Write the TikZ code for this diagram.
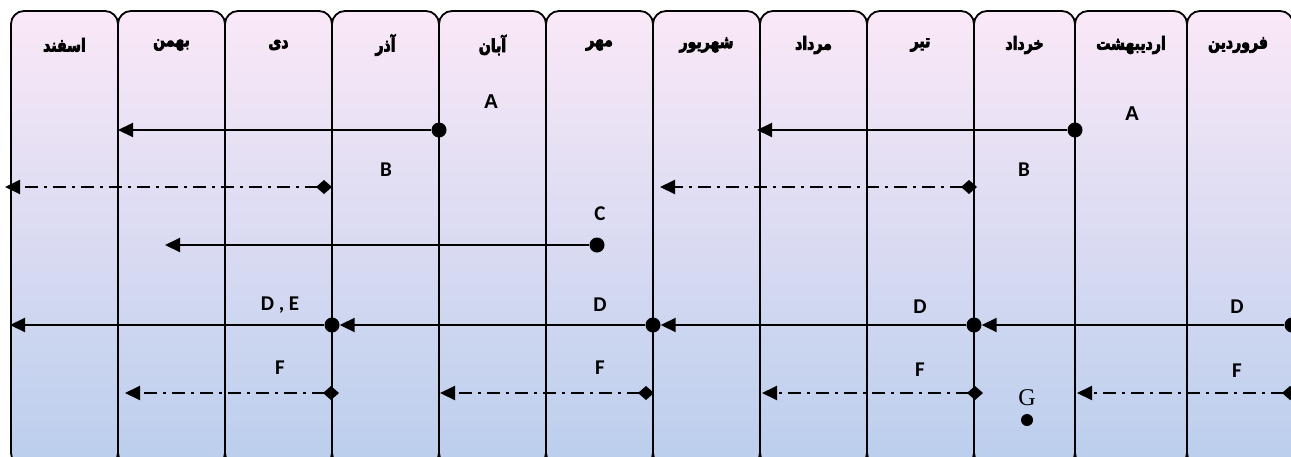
\documentclass[tikz,border=0pt]{standalone}
\usepackage{fontspec}
\usetikzlibrary{arrows.meta,shadows}
\TeXXeTstate=1
\newfontfamily\arabicfont[Script=Arabic, FakeStretch=0.78, BoldFont={DejaVu Sans Bold}, BoldFeatures={FakeBold=4}]{DejaVu Sans}
\newfontfamily\calfont{Carlito}
\newfontfamily\arialfont{Liberation Sans}
\newfontfamily\timesfont{Liberation Serif}
\definecolor{boxtop}{RGB}{250,232,247}
\definecolor{boxbot}{RGB}{186,206,237}
\tikzset{
  colbox/.style={draw=black, line width=1.8pt, rounded corners=13pt,
    top color=boxtop, bottom color=boxbot,
    drop shadow={shadow xshift=0pt, shadow yshift=-3pt, opacity=0.45, fill=gray}},
  month/.style={font=\arabicfont\bfseries\fontsize{18}{20}\selectfont, inner sep=0pt},
  lbl/.style={font=\calfont\bfseries\fontsize{21}{23}\selectfont, inner sep=0pt},
  albl/.style={font=\arialfont\bfseries\fontsize{20}{22}\selectfont, inner sep=0pt},
  dot/.style={circle, fill=black, minimum size=15pt, inner sep=0pt},
  solidarr/.style={line width=2pt, -{Triangle[length=15pt,width=14pt]}},
  dasharr/.style={line width=2pt, dash pattern=on 13pt off 6pt on 3pt off 6pt,
    {Diamond[length=16pt,width=14pt]}-{Triangle[length=15pt,width=14pt]}}
}
\begin{document}
\begin{tikzpicture}[x=1pt,y=-1pt]
\useasboundingbox (0,0) rectangle (1291,456);
\begin{scope}
\clip (0,0) rectangle (1291,456);
\foreach \a/\b in {11/118,118/225,225/332,332/439,439/546,546/653,653/760,760/867,867/974,974/1075,1075/1187,1187/1293}
  \path[colbox] (\a,11) rectangle (\b,466);
\end{scope}
% month headers
\node[month] (m1) at (64.5,45) {\beginR اسفند\endR};
\node[month] (m2) at (171.5,45) {\beginR بهمن\endR};
\node[month] (m3) at (278.5,45) {\beginR دی\endR};
\node[month] (m4) at (385.5,45) {\beginR آذر\endR};
\node[month] (m5) at (492.5,45) {\beginR آبان\endR};
\node[month] (m6) at (599.5,45) {\beginR مهر\endR};
\node[month] (m7) at (706.5,45) {\beginR شهریور\endR};
\node[month] (m8) at (813.5,45) {\beginR مرداد\endR};
\node[month] (m9) at (920.5,45) {\beginR تیر\endR};
\node[month] (m10) at (1024.5,45) {\beginR خرداد\endR};
\node[month] (m11) at (1131,45) {\beginR اردیبهشت\endR};
\node[month] (m12) at (1238,45) {\beginR فروردین\endR};
% labels
\node[albl] (A1) at (491,102) {A};
\node[albl] (A2) at (1132,114) {A};
\node[lbl] (B1) at (386,170) {B};
\node[lbl] (B2) at (1024,170) {B};
\node[lbl] (C) at (600,214) {C};
\node[lbl] (D1) at (1237,307) {D};
\node[lbl] (D2) at (920,307) {D};
\node[lbl] (D3) at (600,305) {D};
\node[lbl] (DE) at (280,305) {D , E};
\node[lbl] (F1) at (1237,371) {F};
\node[lbl] (F2) at (920,370) {F};
\node[lbl] (F3) at (600,368) {F};
\node[lbl] (F4) at (280,368) {F};
\node[font=\timesfont\fontsize{24}{26}\selectfont, inner sep=0pt] (G) at (1027,398) {G};
\node[dot, minimum size=12pt] (gdot) at (1027,420) {};
% A arrows
\node[dot] (dA1) at (439,130) {};
\coordinate (tA1) at (118,130);
\draw[solidarr] (dA1) -- (tA1);
\node[dot] (dA2) at (1075,130) {};
\coordinate (tA2) at (757,130);
\draw[solidarr] (dA2) -- (tA2);
% B arrows
\coordinate (sB1) at (332,187); \coordinate (tB1) at (5,187);
\draw[dasharr] (sB1) -- (tB1);
\coordinate (sB2) at (977,187); \coordinate (tB2) at (660,187);
\draw[dasharr] (sB2) -- (tB2);
% C arrow
\node[dot] (dC) at (597,245) {};
\coordinate (tC) at (165,245);
\draw[solidarr] (dC) -- (tC);
% D arrows
\node[dot] (dD1) at (1292,325) {};
\node[dot] (dD2) at (974,325) {};
\node[dot] (dD3) at (653,325) {};
\node[dot] (dD4) at (332,325) {};
\coordinate (tD) at (10,325);
\draw[solidarr] (dD1) -- (dD2);
\draw[solidarr] (dD2) -- (dD3);
\draw[solidarr] (dD3) -- (dD4);
\draw[solidarr] (dD4) -- (tD);
% F arrows
\coordinate (sF1) at (1298,393); \coordinate (tF1) at (1077,393);
\coordinate (sF2) at (983,393); \coordinate (tF2) at (762,393);
\coordinate (sF3) at (654,393); \coordinate (tF3) at (440,393);
\coordinate (sF4) at (339,393); \coordinate (tF4) at (125,393);
\draw[dasharr] (sF1) -- (tF1);
\draw[dasharr] (sF2) -- (tF2);
\draw[dasharr] (sF3) -- (tF3);
\draw[dasharr] (sF4) -- (tF4);
\end{tikzpicture}
\end{document}
